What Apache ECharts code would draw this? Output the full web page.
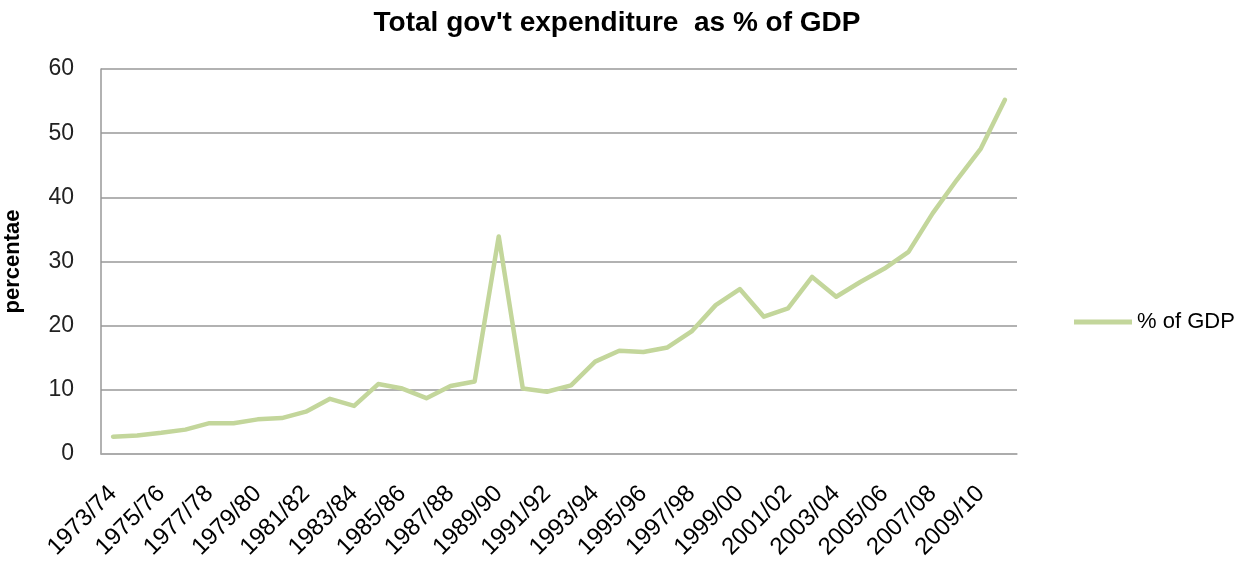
<!DOCTYPE html>
<html>
<head>
<meta charset="utf-8">
<script src="https://cdn.jsdelivr.net/npm/echarts@6/dist/echarts.min.js"></script>
<style>
  html, body { margin: 0; padding: 0; background: #fff; }
  #chart { width: 1235px; height: 565px; }
</style>
</head>
<body>
<div id="chart"></div>
<script>
// financial years 1973/74 .. 2010/11
var years = [
  "1973/74", "1974/75", "1975/76", "1976/77", "1977/78", "1978/79", "1979/80",
  "1980/81", "1981/82", "1982/83", "1983/84", "1984/85", "1985/86", "1986/87",
  "1987/88", "1988/89", "1989/90", "1990/91", "1991/92", "1992/93", "1993/94",
  "1994/95", "1995/96", "1996/97", "1997/98", "1998/99", "1999/00", "2000/01",
  "2001/02", "2002/03", "2003/04", "2004/05", "2005/06", "2006/07", "2007/08",
  "2008/09", "2009/10", "2010/11"
];
// % of GDP
var pctOfGdp = [
  2.7, 2.9, 3.3, 3.8, 4.8, 4.8, 5.4, 5.6, 6.6, 8.6, 7.5, 10.9, 10.2,
  8.7, 10.6, 11.3, 33.9, 10.2, 9.7, 10.7, 14.4, 16.1, 15.9, 16.6, 19.1,
  23.2, 25.7, 21.4, 22.7, 27.6, 24.5, 26.8, 28.9, 31.5, 37.5, 42.7, 47.6, 55.2
];
var yTicks = [0, 10, 20, 30, 40, 50, 60];

var lineColor = "#c3d69b";
var font = "'Liberation Sans', Arial, sans-serif";

var chart = echarts.init(document.getElementById("chart"));
chart.setOption({
  animation: false,
  title: {
    text: "Total gov't expenditure  as % of GDP",
    left: 612,
    textAlign: "center",
    top: 4,
    textStyle: { fontFamily: font, fontSize: 28, fontWeight: "bold", color: "#000" }
  },
  grid: { left: 101, right: 218, top: 69, bottom: 111, outerBoundsMode: "none" },
  legend: {
    left: 1069,
    top: 306,
    icon: "rect",
    itemWidth: 58,
    itemHeight: 5,
    textStyle: { fontFamily: font, fontSize: 22, color: "#000" },
    data: ["% of GDP"]
  },
  xAxis: {
    type: "category",
    data: years,
    boundaryGap: true,
    axisLine: { lineStyle: { color: "#aaa", width: 1.5 } },
    axisTick: { show: false },
    axisLabel: {
      interval: 1,
      rotate: 45,
      margin: 36,
      fontFamily: font,
      fontSize: 24,
      color: "#000"
    }
  },
  yAxis: {
    type: "value",
    min: yTicks[0],
    max: yTicks[yTicks.length - 1],
    interval: 10,
    name: "percentae",
    nameLocation: "middle",
    nameRotate: 90,
    nameGap: 77,
    nameTextStyle: { fontFamily: font, fontSize: 22, fontWeight: "bold", color: "#000" },
    axisLine: { show: true, lineStyle: { color: "#999", width: 1.5 } },
    axisTick: { show: false },
    axisLabel: { margin: 27, fontFamily: font, fontSize: 23, color: "#222" },
    splitLine: { lineStyle: { color: "#999", width: 1.5 } }
  },
  series: [
    {
      name: "% of GDP",
      type: "line",
      data: pctOfGdp,
      color: lineColor,
      showSymbol: false,
      smooth: false,
      lineStyle: { width: 4.5, color: lineColor, cap: "round", join: "round" }
    }
  ]
});
</script>
</body>
</html>
